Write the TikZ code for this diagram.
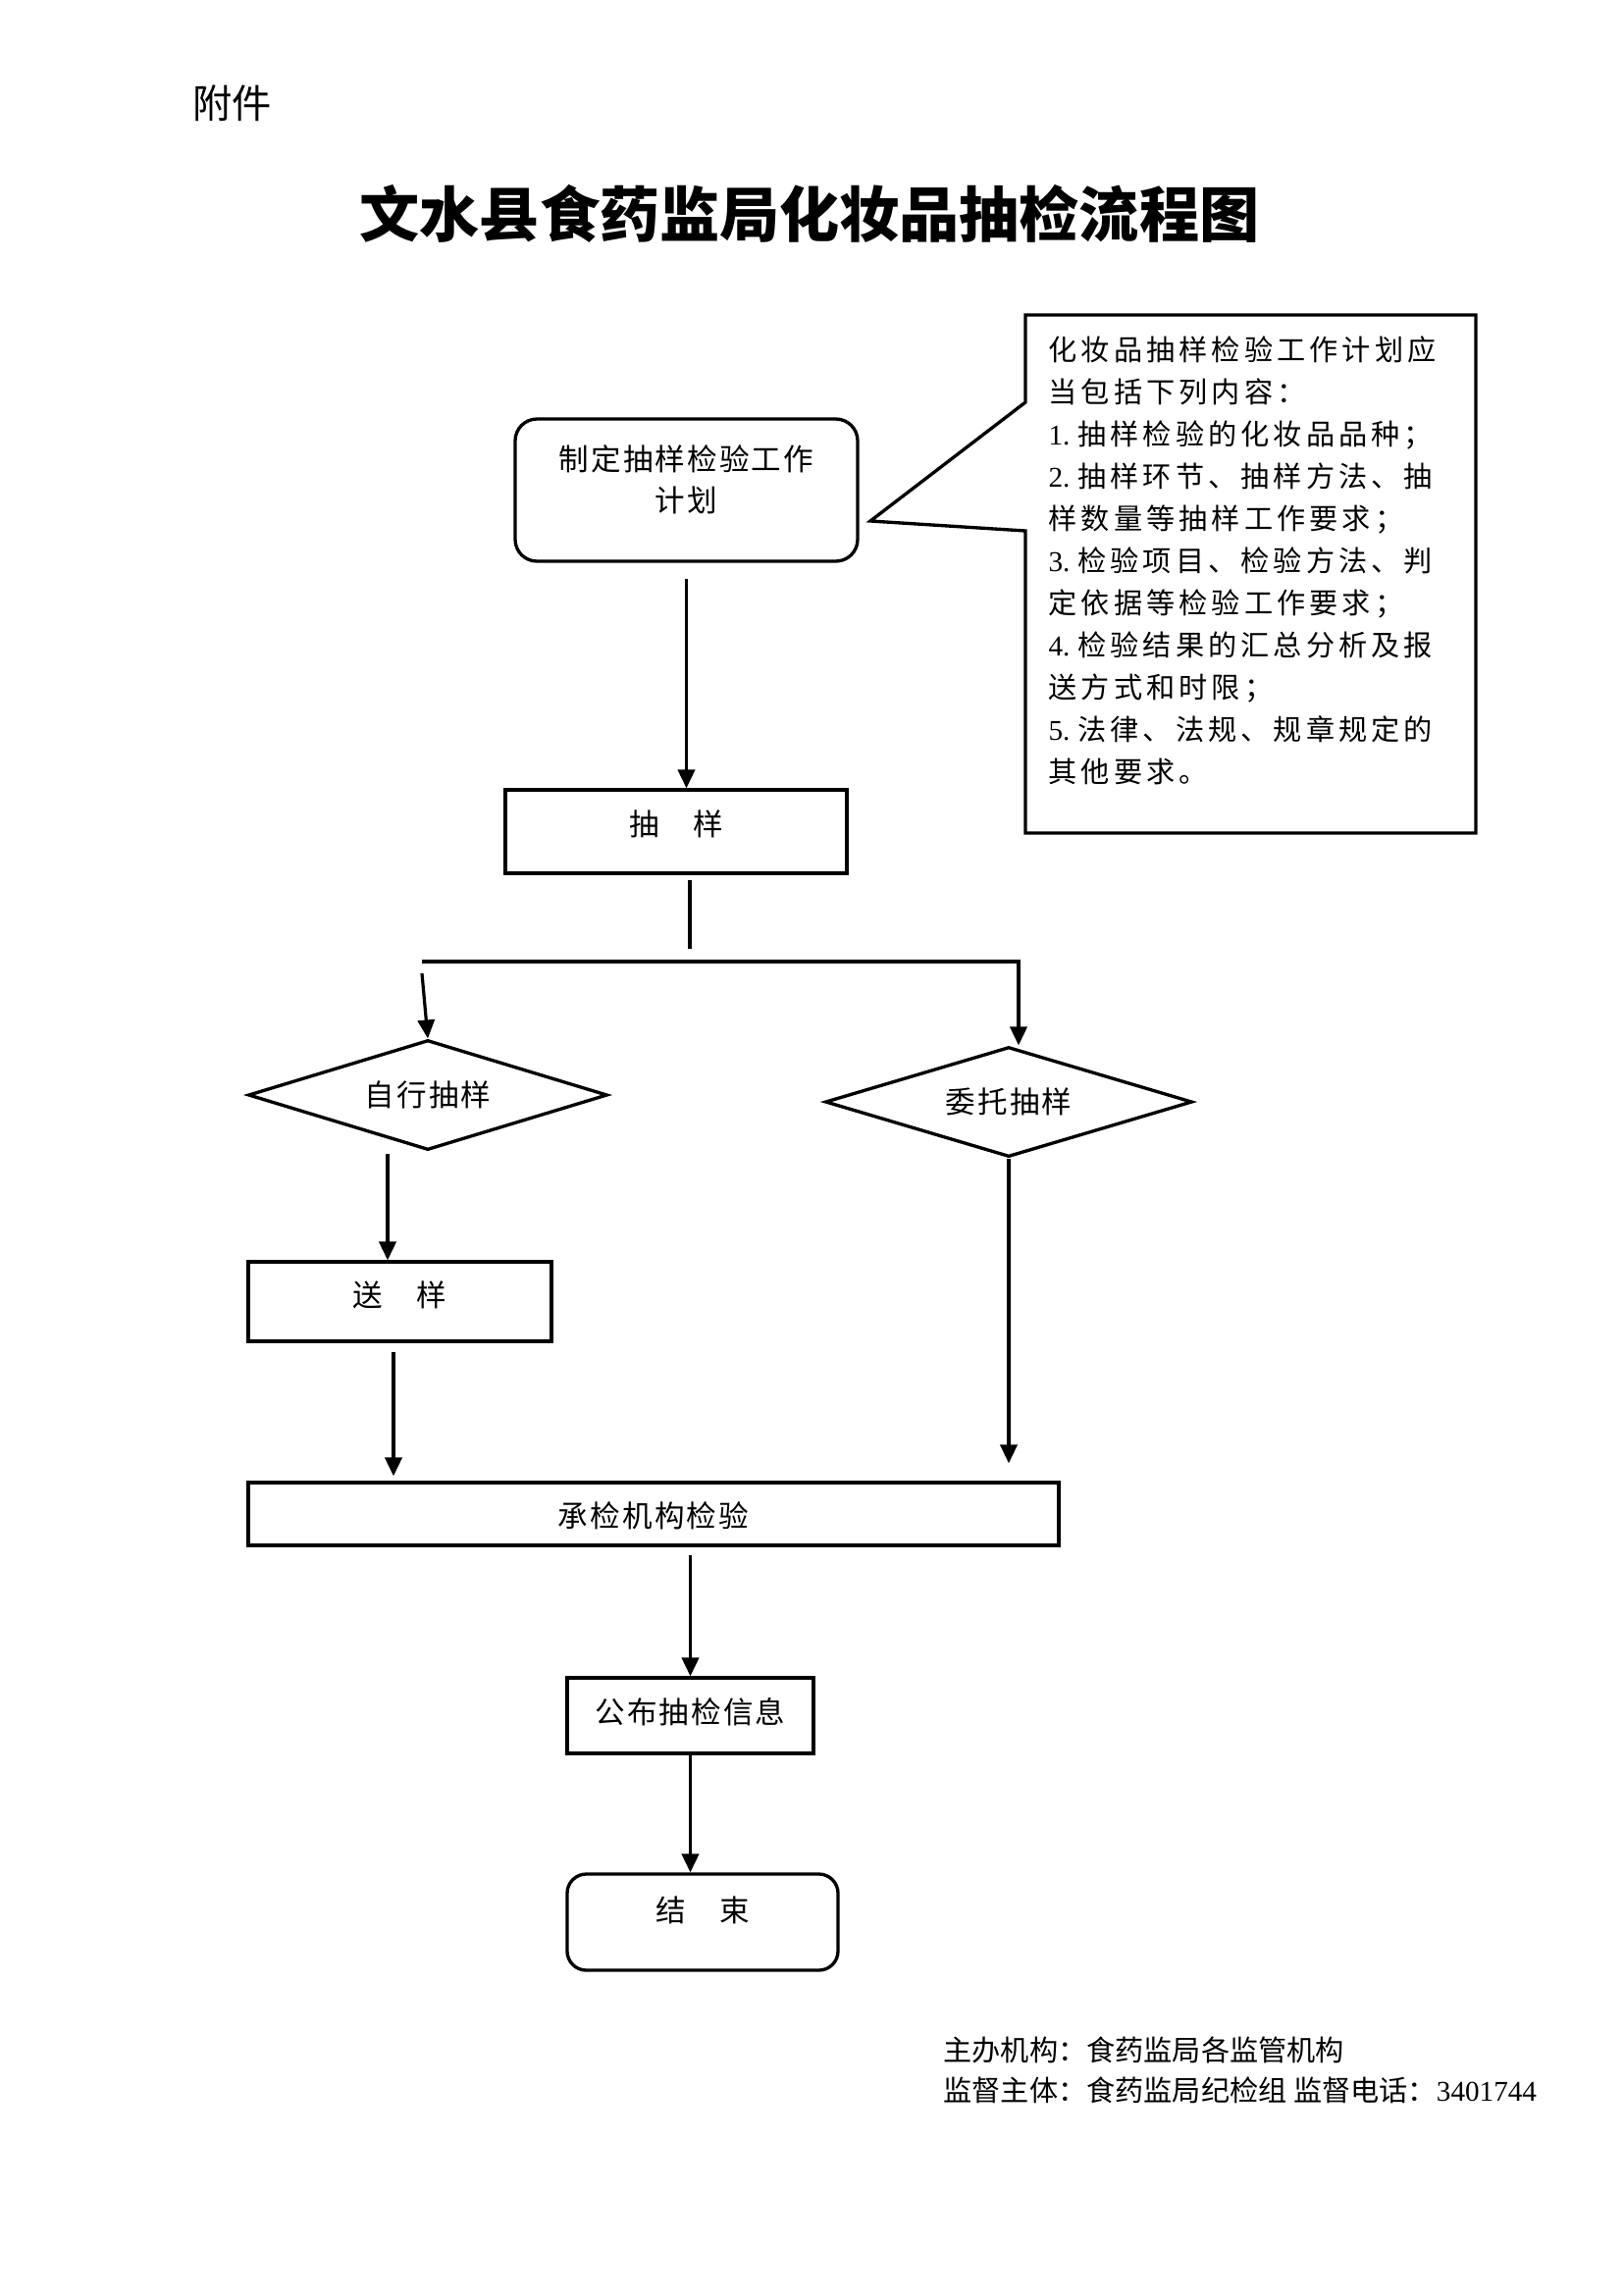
\documentclass[tikz,border=0pt]{standalone}
\usepackage{fontspec}
\setmainfont{Noto Sans CJK SC}
\newfontfamily\latf{Liberation Serif}
\usetikzlibrary{shapes.geometric,arrows.meta}
\newcommand\bxfont{\fontsize{11pt}{15.1pt}\selectfont\addfontfeatures{LetterSpace=7}}
\newcommand\cofont{\fontsize{10.5pt}{15.48pt}\selectfont\addfontfeatures{LetterSpace=14}}
\newcommand\ftfont{\fontsize{10.5pt}{15.5pt}\selectfont}
% centre a line of text on the node centre, raised by #1
\newcommand\tx[2]{\raisebox{\dimexpr #1-0.38em\relax}[0pt][0pt]{#2}}
\newcommand\num[1]{\makebox[1.02em][l]{\latf #1}}
\begin{document}
\begin{tikzpicture}[x=0.36pt,y=-0.36pt,
  box/.style={draw,line width=1.2pt,inner sep=0pt,font=\bxfont,align=center},
  dia/.style={box,diamond,shape aspect=3.3},
  conn/.style={line width=1.15pt},
  arr/.style={conn,-{Triangle[length=6.8pt,width=6.2pt]}}]
\fill[white] (0,0) rectangle (1654,2339);
\useasboundingbox (0,0) rectangle (1654,2339);

% headings
\node[anchor=west,inner sep=0pt,font=\fontsize{14.5pt}{17pt}\selectfont] (fj) at (196,105) {附件};
\node[inner sep=0pt,font=\fontsize{22pt}{26pt}\selectfont\bfseries] (title) at (825,218) {文水县食药监局化妆品抽检流程图};

% nodes
\node[box,rounded corners=8pt,minimum width=125.64pt,minimum height=52.2pt] (plan) at (699.5,499.5) {};
\node[inner sep=0pt,font=\bxfont,align=center] (plantxt) at (699.5,489) {制定抽样检验工作\\计划};
\node[box,minimum width=125.28pt,minimum height=30.6pt] (sample) at (689,847.5) {\tx{2.7pt}{抽　样}};
\node[dia,minimum width=131.76pt,minimum height=40.32pt] (self) at (436,1116) {\tx{0pt}{自行抽样}};
\node[dia,minimum width=134.64pt,minimum height=40.32pt] (entrust) at (1028,1123) {\tx{0pt}{委托抽样}};
\node[box,minimum width=111.24pt,minimum height=29.16pt] (send) at (407.5,1326.5) {\tx{2.3pt}{送　样}};
\node[box,minimum width=297.36pt,minimum height=23.04pt] (lab) at (666,1543) {\tx{-0.7pt}{承检机构检验}};
\node[box,minimum width=90.36pt,minimum height=27.72pt] (publish) at (703.5,1748.5) {\tx{1.3pt}{公布抽检信息}};
\node[box,rounded corners=7pt,minimum width=99.36pt,minimum height=35.28pt] (end) at (716,1959) {\tx{4.3pt}{结　束}};

% callout
\coordinate (tip) at (887,531);
\draw[line width=1.2pt,line join=miter] (1045,321) -- (1504,321) -- (1504,849) -- (1045,849) -- (1045,541) -- (tip) -- (1045,410) -- cycle;
\node[anchor=north west,inner sep=0pt,align=left,font=\cofont] (note) at (1068,342) {化妆品抽样检验工作计划应\\
当包括下列内容：\\
\num{1.}抽样检验的化妆品品种；\\
\num{2.}抽样环节、抽样方法、抽\\
样数量等抽样工作要求；\\
\num{3.}检验项目、检验方法、判\\
定依据等检验工作要求；\\
\num{4.}检验结果的汇总分析及报\\
送方式和时限；\\
\num{5.}法律、法规、规章规定的\\
其他要求。};

% connectors
\coordinate (stub) at (703,967);
\coordinate (hl) at (430,980);
\coordinate (hr) at (1038,980);
\coordinate (ls) at (430,992);
\coordinate (s5) at (395,1176);
\coordinate (s6) at (401,1378);

\draw[arr,shorten <=6pt] (plan.south) -- (plan.south |- sample.north);
\draw[conn,shorten <=1.8pt] (sample.south -| stub) -- (stub);
\draw[arr] (hl) -- (hr) -- (hr |- entrust.north);
\draw[arr] (ls) -- (self.north);
\draw[arr] (s5) -- (s5 |- send.north);
\draw[arr,shorten >=1.8pt] (s6) -- (s6 |- lab.north);
\draw[arr,shorten >=6.5pt] (entrust.south) -- (entrust.south |- lab.north);
\draw[arr,shorten <=2.9pt] (lab.south -| publish.north) -- (publish.north);
\draw[arr] (publish.south) -- (publish.south |- end.north);

% footer
\node[anchor=west,inner sep=0pt,font=\ftfont] (org) at (961,2089) {主办机构：食药监局各监管机构};
\node[anchor=west,inner sep=0pt,font=\ftfont] (sup) at (961,2130) {监督主体：食药监局纪检组 监督电话：{\latf 3401744}};
\end{tikzpicture}
\end{document}
